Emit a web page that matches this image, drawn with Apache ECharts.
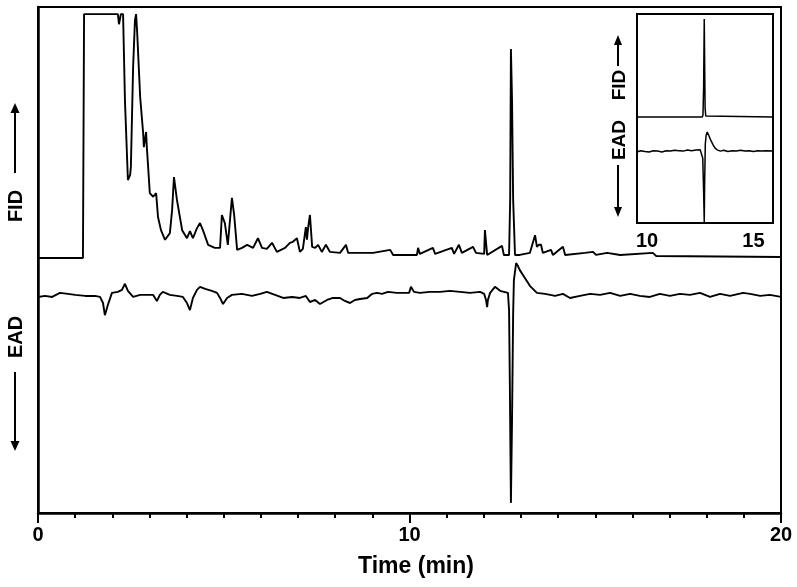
<!DOCTYPE html>
<html>
<head>
<meta charset="utf-8">
<script src="https://cdn.jsdelivr.net/npm/echarts@6/dist/echarts.min.js"></script>
<style>html,body{margin:0;padding:0;background:#fff;}#c{width:797px;height:587px;}</style>
</head>
<body>
<div id="c"></div>
<script>
// ---- main chart data (time in min, signal in relative units 0-100) ----
var fidTime = [0,1.21,1.24,2.15,2.18,2.21,2.23,2.29,2.34,2.40,2.42,2.48,2.50,2.56,2.61,2.64,2.67,2.75,2.83,2.85,2.91,2.93,3.01,3.10,3.18,3.23,3.31,3.42,3.55,3.61,3.66,3.74,3.88,4.01,4.09,4.17,4.28,4.36,4.44,4.58,4.76,4.90,4.95,5.03,5.11,5.22,5.28,5.36,5.49,5.63,5.79,5.92,6.03,6.16,6.30,6.43,6.65,6.78,6.86,6.97,7.05,7.13,7.21,7.24,7.27,7.32,7.38,7.46,7.54,7.64,7.75,7.86,8.13,8.29,8.35,8.67,9.02,9.48,9.56,10.20,10.23,10.28,10.63,10.69,11.14,11.20,11.33,11.41,11.71,11.79,12.01,12.03,12.09,12.49,12.54,12.68,12.71,12.73,12.76,12.79,12.84,12.97,13.24,13.32,13.38,13.43,13.48,13.54,13.59,13.81,13.86,14.13,14.19,14.72,14.94,15.02,15.32,15.67,16.55,16.64,20];
var fidSignal = [50.4,50.4,98.6,98.6,96.6,96.6,98.6,98.6,81.6,69.8,65.8,66.8,68.4,88.1,97.4,98.6,94.9,82.2,75.1,72.3,75.3,72.3,63.2,62.5,63.2,58.5,55.9,54.0,55.3,59.9,66.4,61.9,55.9,54.3,55.7,54.3,56.3,57.3,55.9,53.0,52.4,52.4,58.9,57.3,53.0,62.3,58.9,52.0,52.4,53.0,52.4,54.3,52.4,52.2,53.4,51.6,52.4,53.4,53.6,54.3,51.6,52.2,56.5,54.0,56.3,58.9,52.6,52.4,53.0,51.6,53.0,51.6,51.4,53.0,51.4,51.4,51.4,52.0,51.0,51.0,52.4,51.2,52.4,51.2,52.4,51.2,53.0,51.4,52.6,51.4,51.2,55.9,51.0,52.8,51.0,51.0,61.9,91.7,81.6,61.9,51.0,51.0,51.4,53.4,54.9,52.6,53.0,53.0,51.4,52.0,51.0,52.6,51.0,51.4,51.6,51.0,51.4,51.0,51.4,50.8,50.6];

var eadTime = [0,0.19,0.38,0.59,0.81,1.0,1.27,1.53,1.67,1.75,1.80,1.88,1.99,2.15,2.26,2.34,2.42,2.56,2.75,2.96,3.10,3.20,3.28,3.36,3.55,3.74,3.90,4.01,4.09,4.17,4.28,4.36,4.50,4.68,4.82,4.90,4.98,5.09,5.22,5.49,5.76,5.98,6.16,6.38,6.60,6.84,7.05,7.21,7.32,7.46,7.59,7.78,7.94,8.13,8.26,8.40,8.53,8.67,8.86,8.99,9.13,9.26,9.42,9.66,9.88,9.99,10.04,10.12,10.28,10.55,10.82,11.09,11.36,11.63,11.90,12.01,12.06,12.09,12.11,12.17,12.30,12.44,12.65,12.68,12.70,12.73,12.76,12.79,12.81,12.87,12.92,12.97,13.11,13.24,13.43,13.65,13.92,14.13,14.32,14.59,14.86,15.13,15.40,15.67,15.94,16.20,16.47,16.74,17.01,17.28,17.55,17.82,18.09,18.36,18.63,18.98,19.17,19.44,19.70,20];
var eadSignal = [42.7,42.9,42.7,43.5,43.3,43.1,42.9,42.9,42.7,41.5,39.1,41.1,43.5,43.7,44.1,45.3,43.9,42.7,43.1,43.1,43.1,41.9,43.1,43.7,43.1,42.9,42.7,41.5,40.1,42.5,44.1,44.7,44.3,43.9,43.5,42.5,41.3,42.5,43.1,43.3,42.9,43.3,43.7,43.1,42.5,42.7,42.5,42.9,41.7,42.1,41.3,42.1,42.5,42.5,41.9,41.5,42.1,42.3,42.5,43.3,43.5,43.3,43.7,43.5,43.5,43.5,44.7,43.7,43.5,43.7,43.7,43.9,43.7,43.5,43.7,43.3,42.1,40.7,42.1,43.5,44.7,43.9,43.5,40.1,26.3,2.0,18.4,39.5,46.0,49.4,48.8,48.0,46.4,44.9,43.5,43.3,42.9,43.3,42.5,42.9,43.3,43.1,43.5,42.9,43.3,42.9,42.7,43.3,42.9,43.3,43.1,43.5,42.7,43.3,42.9,43.5,43.3,42.9,43.1,42.7];

// ---- inset data ----
var insetFidTime = [9.53,12.60,12.63,12.66,12.69,12.71,12.73,12.76,12.80,15.92];
var insetFidSignal = [50.7,50.7,51.8,65.0,97.6,75.0,55.0,51.2,50.7,50.7];
var insetEadTime = [9.53,9.7,9.9,10.1,10.3,10.5,10.7,10.9,11.1,11.3,11.5,11.7,11.9,12.1,12.3,12.5,12.58,12.62,12.66,12.69,12.71,12.74,12.78,12.83,12.9,13.0,13.1,13.2,13.3,13.45,13.6,13.8,14.0,14.2,14.4,14.6,14.8,15.0,15.2,15.4,15.6,15.92];
var insetEadSignal = [34.0,34.6,34.2,34.0,34.6,34.4,34.0,34.6,34.4,34.8,34.6,34.4,34.9,34.6,34.9,35.0,34.6,31.0,15.0,0.5,20.0,38.0,42.0,43.5,42.0,39.5,37.5,35.8,35.0,34.4,34.8,34.2,34.6,34.4,34.8,34.4,34.6,34.2,34.6,34.4,34.6,34.4];

// ---- tick labels ----
var mainTickLabels = [0, 10, 20];
var insetTickLabels = [10, 15];

function zip(a, b) { return a.map(function (v, i) { return [v, b[i]]; }); }

var FONT = '"Liberation Sans", Arial, sans-serif';
var chart = echarts.init(document.getElementById('c'), null, { renderer: 'canvas' });

function arrowUp(x, yTop, yBottom, hw, hh) {
  return [
    { type: 'line', shape: { x1: x, y1: yBottom, x2: x, y2: yTop + hh - 1 }, style: { stroke: '#000', lineWidth: 2 } },
    { type: 'polygon', shape: { points: [[x - hw, yTop + hh], [x + hw, yTop + hh], [x, yTop]] }, style: { fill: '#000' } }
  ];
}
function arrowDown(x, yTop, yBottom, hw, hh) {
  return [
    { type: 'line', shape: { x1: x, y1: yTop, x2: x, y2: yBottom - hh + 1 }, style: { stroke: '#000', lineWidth: 2 } },
    { type: 'polygon', shape: { points: [[x - hw, yBottom - hh], [x + hw, yBottom - hh], [x, yBottom]] }, style: { fill: '#000' } }
  ];
}
function vText(txt, x, y, size) {
  return { type: 'text', x: x, y: y, rotation: Math.PI / 2,
    style: { text: txt, x: 0, y: 0, align: 'center', verticalAlign: 'middle', fill: '#000', font: 'bold ' + size + 'px ' + FONT } };
}

var graphics = [].concat(
  [vText('FID', 16, 206, 20)], arrowUp(15, 103, 173, 4.5, 10),
  [vText('EAD', 16, 337, 20)], arrowDown(15, 372, 451, 4.5, 10),
  [vText('FID', 620, 85, 19)], arrowUp(618, 35, 66, 4, 10),
  [vText('EAD', 620, 140, 19)], arrowDown(618, 165, 217, 4, 10)
);

var option = {
  animation: false,
  backgroundColor: '#fff',
  textStyle: { fontFamily: FONT },
  grid: [
    { left: 38, top: 7, width: 743, height: 506, show: true, borderColor: '#000', borderWidth: 2, backgroundColor: 'transparent' },
    { left: 637, top: 14, width: 136, height: 209, show: true, borderColor: '#000', borderWidth: 2, backgroundColor: '#fff', z: 5 }
  ],
  xAxis: [
    { type: 'value', gridIndex: 0, min: 0, max: 20, interval: 10,
      axisLine: { show: true, lineStyle: { color: '#000', width: 2.5 } },
      axisTick: { show: true, length: 10, lineStyle: { color: '#000', width: 2 } },
      minorTick: { show: true, splitNumber: 10, length: 5, lineStyle: { color: '#000', width: 2 } },
      splitLine: { show: false },
      axisLabel: { show: true, margin: 12, color: '#000', fontSize: 20, fontWeight: 'bold', fontFamily: FONT,
        formatter: function (v) { return mainTickLabels.indexOf(v) >= 0 ? String(v) : ''; } },
      name: 'Time (min)', nameLocation: 'middle', nameGap: 42,
      nameTextStyle: { color: '#000', fontSize: 23, fontWeight: 'bold', fontFamily: FONT, padding: [0, 0, 0, 13] }
    },
    { type: 'value', gridIndex: 1, min: 9.53, max: 15.92,
      axisLine: { show: false }, axisTick: { show: false }, splitLine: { show: false },
      axisLabel: { show: true, customValues: insetTickLabels, margin: 8, color: '#000', fontSize: 20, fontWeight: 'bold', fontFamily: FONT }
    }
  ],
  yAxis: [
    { type: 'value', gridIndex: 0, min: 0, max: 100,
      axisLine: { show: true, lineStyle: { color: '#000', width: 2.5 } },
      axisTick: { show: false }, axisLabel: { show: false }, splitLine: { show: false } },
    { type: 'value', gridIndex: 1, min: 0, max: 100,
      axisLine: { show: false }, axisTick: { show: false }, axisLabel: { show: false }, splitLine: { show: false } }
  ],
  series: [
    { name: 'FID', type: 'line', xAxisIndex: 0, yAxisIndex: 0, data: zip(fidTime, fidSignal), showSymbol: false,
      lineStyle: { color: '#000', width: 1.9 }, z: 3 },
    { name: 'EAD', type: 'line', xAxisIndex: 0, yAxisIndex: 0, data: zip(eadTime, eadSignal), showSymbol: false,
      lineStyle: { color: '#000', width: 1.9 }, z: 3 },
    { name: 'FID inset', type: 'line', xAxisIndex: 1, yAxisIndex: 1, data: zip(insetFidTime, insetFidSignal), showSymbol: false,
      lineStyle: { color: '#000', width: 1.5 }, z: 6 },
    { name: 'EAD inset', type: 'line', xAxisIndex: 1, yAxisIndex: 1, data: zip(insetEadTime, insetEadSignal), showSymbol: false,
      lineStyle: { color: '#000', width: 1.5 }, z: 6 }
  ],
  graphic: graphics
};
chart.setOption(option);
</script>
</body>
</html>
